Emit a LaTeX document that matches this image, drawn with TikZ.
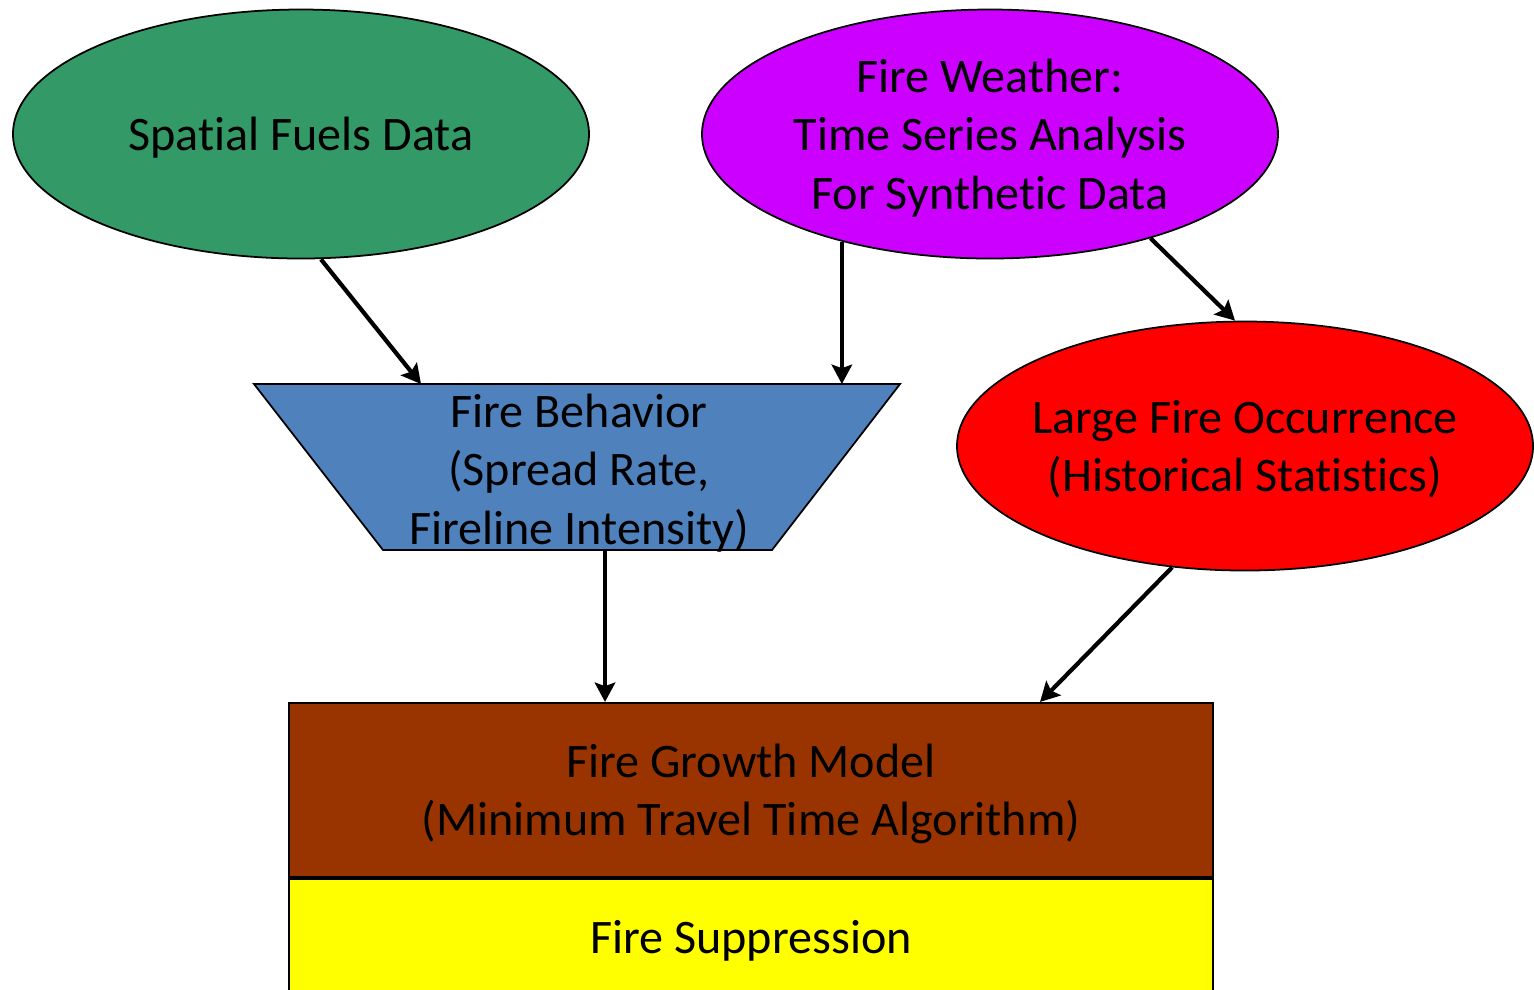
\documentclass[tikz,border=0pt]{standalone}
\usepackage{fontspec}
\setmainfont{Carlito}[Ligatures=NoCommon]
\usepackage{xcolor}
\usepackage{tikz}
\usetikzlibrary{positioning,shapes.geometric,arrows.meta,calc}

\definecolor{fuelgreen}{HTML}{339966}
\definecolor{wxpurple}{HTML}{CC00FF}
\definecolor{occurred}{HTML}{FF0000}
\definecolor{behavblue}{HTML}{4F81BD}
\definecolor{growthbrown}{HTML}{993300}
\definecolor{suppryellow}{HTML}{FFFF00}

\begin{document}
\begin{tikzpicture}[
    >={Stealth[length=5.5pt,width=5.8pt,inset=1pt]},
    font=\fontsize{13.7}{16.6}\selectfont,
    text depth=0pt,
    blob/.style={
        ellipse,
        draw=black,
        line width=0.5pt,
        minimum width=5.76cm,
        minimum height=2.49cm,
        inner sep=0pt,
        inner xsep=-0.1cm,
        align=center
    },
    trapbox/.style={
        draw=black,
        line width=0.5pt,
        fill=behavblue
    },
    layer/.style={
        rectangle,
        draw=black,
        line width=0.6pt,
        minimum width=9.24cm,
        align=center
    },
    arr/.style={->, line width=1.2pt}
]

\clip (0,0) rectangle (15.34,-9.89);

\node[blob, fill=fuelgreen] (fuels) at (3.01,-1.34)
{Spatial Fuels Data};

\node[blob, fill=wxpurple] (weather) at (9.90,-1.34)
{Fire Weather:\\
Time Series Analysis\\
For Synthetic Data};

\node[blob, fill=occurred] (occur) at (12.45,-4.46)
{Large Fire Occurrence\\
(Historical Statistics)};

% trapezoid for the fire behavior box
\coordinate (btl) at (2.54,-3.84);
\coordinate (btr) at (9.00,-3.84);
\coordinate (bbr) at (7.72,-5.50);
\coordinate (bbl) at (3.83,-5.50);
\draw[trapbox] (btl) -- (btr) -- (bbr) -- (bbl) -- cycle;
\node[align=center] (behav) at (5.79,-4.69)
{Fire Behavior\\
(Spread Rate,\\
Fireline Intensity)};

\node[layer, fill=growthbrown, minimum height=1.74cm] (growth) at (7.51,-7.90)
{Fire Growth Model\\
(Minimum Travel Time Algorithm)};

\node[layer, fill=suppryellow, minimum height=1.40cm, text depth=7pt, anchor=north] (suppr) at (growth.south)
{Fire Suppression};

\draw[arr] ([xshift=0.2cm]fuels.south) -- ($(btl)+(1.67,0)$);
\draw[arr] (weather.216.2) -- (weather.216.2 |- btl);
\draw[arr] (weather.-33.4) -- ([xshift=-0.1cm]occur.north);
\draw[arr] ($(bbl)+(2.22,0)$) coordinate (bout) -- (bout |- growth.north);
\draw[arr] (occur.239.4) -- ([xshift=2.89cm]growth.north);

\end{tikzpicture}
\end{document}
